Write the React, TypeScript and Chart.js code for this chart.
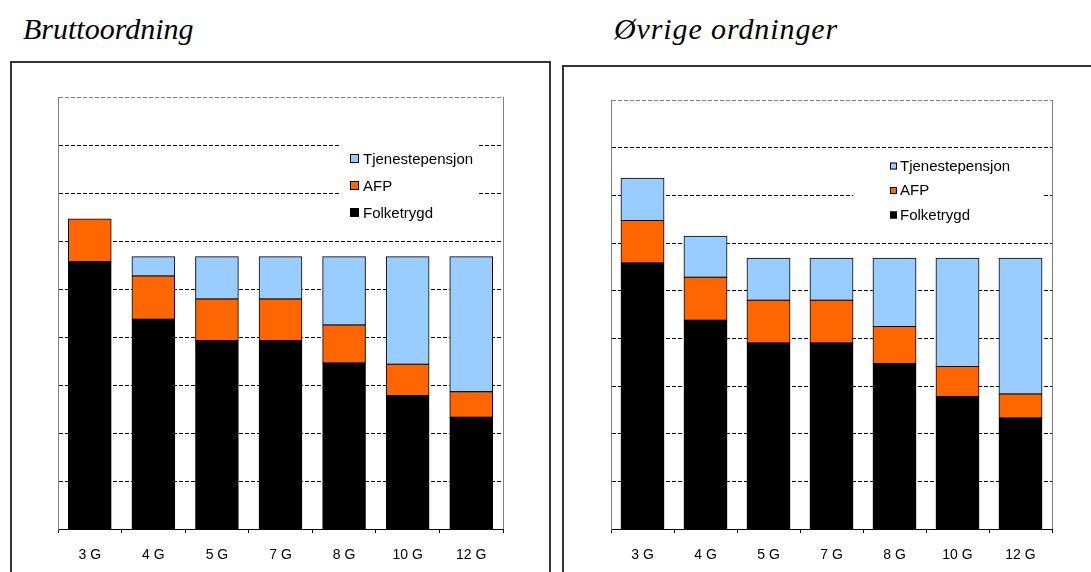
import React, { useEffect, useRef } from "react";
import { Chart, registerables } from "chart.js";

Chart.register(...registerables);

// ---------- data ----------
const categories = ["3 G", "4 G", "5 G", "7 G", "8 G", "10 G", "12 G"];
const seriesNames = ["Folketrygd", "AFP", "Tjenestepensjon"];
const seriesColors = ["#000000", "#FF6600", "#99CCFF"];
const yMin = 0;
const yMax = 9;
const yStep = 1;

const bruttoFolketrygd = [5.57, 4.37, 3.92, 3.92, 3.46, 2.78, 2.33];
const bruttoAFP = [0.89, 0.9, 0.87, 0.87, 0.79, 0.65, 0.53];
const bruttoTjenestepensjon = [null, 0.4, 0.88, 0.88, 1.42, 2.24, 2.81];

const ovrigeFolketrygd = [5.58, 4.38, 3.9, 3.9, 3.47, 2.78, 2.33];
const ovrigeAFP = [0.89, 0.9, 0.9, 0.9, 0.78, 0.63, 0.5];
const ovrigeTjenestepensjon = [0.89, 0.86, 0.88, 0.88, 1.43, 2.27, 2.85];

const SANS = '"Liberation Sans", Arial, Helvetica, sans-serif';
const SERIF = '"Liberation Serif", "Times New Roman", serif';

type LegendGeom = {
  box: { x: number; y: number; w: number; h: number };
  squareX: number;
  squareSize: number;
  textX: number;
  baselines: number[];
};

const boxLegendPlugin = {
  id: "boxLegend",
  afterDraw(chart: any, _args: any, opts: any) {
    const g: LegendGeom = opts.geom;
    if (!g) return;
    const ctx = chart.ctx;
    ctx.save();
    ctx.fillStyle = "#ffffff";
    ctx.fillRect(g.box.x, g.box.y, g.box.w, g.box.h);
    const ds = chart.data.datasets.slice().reverse();
    ctx.font = `15px ${SANS}`;
    ctx.textBaseline = "alphabetic";
    ctx.textAlign = "left";
    ds.forEach((d: any, i: number) => {
      const base = g.baselines[i];
      const sy = base - 1 - g.squareSize;
      ctx.fillStyle = d.backgroundColor;
      ctx.fillRect(g.squareX, sy, g.squareSize, g.squareSize);
      ctx.strokeStyle = "#000";
      ctx.lineWidth = 1;
      ctx.strokeRect(g.squareX + 0.5, sy + 0.5, g.squareSize - 1, g.squareSize - 1);
      ctx.fillStyle = "#000";
      ctx.fillText(d.label, g.textX, base);
    });
    ctx.restore();
  },
};

const frameLinePlugin = {
  id: "frameLine",
  beforeDatasetsDraw(chart: any) {
    const { ctx, chartArea } = chart;
    ctx.save();
    ctx.strokeStyle = "#808080";
    ctx.lineWidth = 1;
    const x = Math.round(chartArea.right) + 0.5;
    ctx.beginPath();
    ctx.moveTo(x, chartArea.top);
    ctx.lineTo(x, chartArea.bottom);
    ctx.stroke();
    ctx.restore();
  },
};

type PanelProps = {
  canvasLeft: number;
  canvasTop: number;
  canvasWidth: number;
  canvasHeight: number;
  padLeft: number;
  padRight: number;
  padTop: number;
  xAxisHeight: number;
  barPct: number;
  series: (number | null)[][];
  legend: LegendGeom;
};

function Panel(p: PanelProps) {
  const ref = useRef<HTMLCanvasElement | null>(null);
  useEffect(() => {
    if (!ref.current) return;
    const chart = new Chart(ref.current, {
      type: "bar",
      data: {
        labels: categories,
        datasets: seriesNames.map((name, i) => ({
          label: name,
          data: p.series[i] as any,
          backgroundColor: seriesColors[i],
          borderColor: "#000000",
          borderWidth: 1,
          borderSkipped: false,
          inflateAmount: 0.5,
          categoryPercentage: 1,
          barPercentage: p.barPct,
        })),
      },
      options: {
        responsive: false,
        animation: false,
        devicePixelRatio: 1,
        layout: { padding: { left: p.padLeft, right: p.padRight, top: p.padTop, bottom: 0 } },
        plugins: {
          legend: { display: false },
          tooltip: { enabled: false },
          boxLegend: { geom: p.legend },
        } as any,
        scales: {
          x: {
            stacked: true,
            grid: {
              offset: true,
              drawOnChartArea: false,
              drawTicks: true,
              tickLength: 4,
              color: "#000",
              lineWidth: 1,
            },
            border: { display: true, color: "#000", width: 1 },
            ticks: {
              color: "#000",
              font: { family: SANS, size: 14 },
              padding: 14,
              maxRotation: 0,
              autoSkip: false,
            },
            afterFit: (s: any) => {
              s.height = p.xAxisHeight;
            },
          },
          y: {
            stacked: true,
            min: yMin,
            max: yMax,
            ticks: { display: false, stepSize: yStep },
            grid: {
              drawTicks: false,
              tickLength: 0,
              lineWidth: 1,
              color: (c: any) => (c.tick && c.tick.value === yMax ? "#808080" : "#000000"),
            },
            border: { display: true, color: "#808080", width: 1, dash: [4, 2] },
            afterFit: (s: any) => {
              s.width = 0;
            },
          },
        },
      } as any,
      plugins: [boxLegendPlugin, frameLinePlugin],
    });
    return () => chart.destroy();
  }, []);
  return (
    <canvas
      ref={ref}
      width={p.canvasWidth}
      height={p.canvasHeight}
      style={{
        position: "absolute",
        left: p.canvasLeft,
        top: p.canvasTop,
        width: p.canvasWidth,
        height: p.canvasHeight,
      }}
    />
  );
}

export default function App() {
  const titleStyle: React.CSSProperties = {
    position: "absolute",
    top: 14,
    fontFamily: SERIF,
    fontStyle: "italic",
    fontSize: 30,
    lineHeight: "30px",
    color: "#000",
    whiteSpace: "nowrap",
  };
  return (
    <div
      style={{
        position: "fixed",
        left: 0,
        top: 0,
        width: 1091,
        height: 572,
        background: "#fff",
        overflow: "hidden",
      }}
    >
      <div style={{ ...titleStyle, left: 23 }}>Bruttoordning</div>
      <div style={{ ...titleStyle, left: 614, letterSpacing: "0.9px" }}>Øvrige ordninger</div>
      <div
        style={{
          position: "absolute",
          left: 10,
          top: 61,
          width: 541,
          height: 620,
          border: "2px solid #333",
          boxSizing: "border-box",
        }}
      />
      <div
        style={{
          position: "absolute",
          left: 562,
          top: 65,
          width: 600,
          height: 620,
          border: "2px solid #333",
          boxSizing: "border-box",
        }}
      />
      <Panel
        canvasLeft={10}
        canvasTop={62}
        canvasWidth={541}
        canvasHeight={510}
        padLeft={48}
        padRight={48}
        padTop={35}
        xAxisHeight={43}
        barPct={0.67}
        series={[bruttoFolketrygd, bruttoAFP, bruttoTjenestepensjon]}
        legend={{
          box: { x: 331, y: 76, w: 137, h: 92 },
          squareX: 340,
          squareSize: 9,
          textX: 353,
          baselines: [102, 129, 156],
        }}
      />
      <Panel
        canvasLeft={563}
        canvasTop={66}
        canvasWidth={528}
        canvasHeight={506}
        padLeft={48}
        padRight={39}
        padTop={34}
        xAxisHeight={43}
        barPct={0.68}
        series={[ovrigeFolketrygd, ovrigeAFP, ovrigeTjenestepensjon]}
        legend={{
          box: { x: 290, y: 85, w: 189, h: 87 },
          squareX: 327,
          squareSize: 7,
          textX: 337,
          baselines: [104.5, 129, 153.5],
        }}
      />
    </div>
  );
}
